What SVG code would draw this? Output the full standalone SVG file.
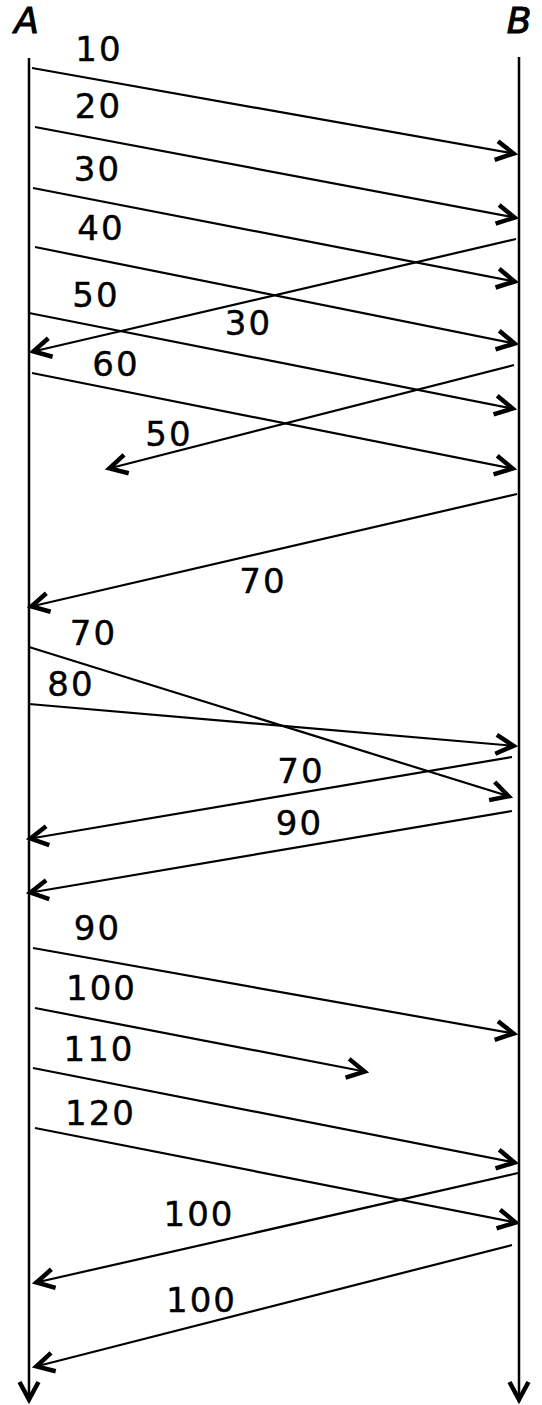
<svg xmlns="http://www.w3.org/2000/svg" width="542" height="1405" viewBox="0 0 542 1405">
<style>
.ax{stroke:#000;stroke-width:2.5;fill:none}
.msg{stroke:#000;stroke-width:2.2;fill:none;marker-end:url(#ah)}
.lbl{font-family:"DejaVu Sans",Verdana,sans-serif;font-size:34px;letter-spacing:2px;fill:#000;stroke:#000;stroke-width:0.4;text-anchor:middle}
.nm{font-family:"DejaVu Sans",Verdana,sans-serif;font-size:36px;font-style:italic;fill:#000;stroke:#000;stroke-width:1;text-anchor:middle}
</style>
<defs>
<marker id="ah" markerUnits="userSpaceOnUse" viewBox="-24 -12 26 24" refX="0" refY="0" markerWidth="26" markerHeight="24" orient="auto" overflow="visible">
<path d="M-20,-9.5 L-2.5,0 L-20,9.5" fill="none" stroke="#000" stroke-width="4.5" stroke-linejoin="miter"/>
</marker>
</defs>
<g id="nodeA">
<text class="nm" x="26.5" y="33">A</text>
<line class="ax" x1="29" y1="58" x2="29" y2="1402" marker-end="url(#ah)"/>
</g>
<g id="nodeB">
<text class="nm" x="519" y="33">B</text>
<line class="ax" x1="519" y1="57" x2="519" y2="1402" marker-end="url(#ah)"/>
</g>
<g id="connectors">
<line class="msg" x1="32" y1="68" x2="516" y2="154"/>
<line class="msg" x1="35" y1="127" x2="517" y2="218"/>
<line class="msg" x1="33" y1="188" x2="517" y2="282"/>
<line class="msg" x1="35" y1="247" x2="517" y2="344"/>
<line class="msg" x1="29" y1="313" x2="515" y2="409"/>
<line class="msg" x1="32" y1="373" x2="515" y2="469"/>
<line class="msg" x1="516" y1="239" x2="31" y2="352"/>
<line class="msg" x1="514" y1="365" x2="107" y2="469"/>
<line class="msg" x1="517" y1="494" x2="29" y2="607"/>
<line class="msg" x1="29" y1="647" x2="511" y2="797"/>
<line class="msg" x1="29" y1="704" x2="516" y2="746"/>
<line class="msg" x1="512" y1="757" x2="28" y2="839"/>
<line class="msg" x1="512" y1="811" x2="28" y2="893"/>
<line class="msg" x1="33" y1="948" x2="516" y2="1034"/>
<line class="msg" x1="35" y1="1008" x2="367" y2="1072"/>
<line class="msg" x1="33" y1="1068" x2="517" y2="1163"/>
<line class="msg" x1="35" y1="1128" x2="518" y2="1223"/>
<line class="msg" x1="518" y1="1173" x2="34" y2="1283"/>
<line class="msg" x1="512" y1="1245" x2="34" y2="1367"/>
</g>
<g id="labels">
<text class="lbl" x="99" y="61">10</text>
<text class="lbl" x="98.5" y="118">20</text>
<text class="lbl" x="97.5" y="181">30</text>
<text class="lbl" x="101" y="240">40</text>
<text class="lbl" x="96" y="307">50</text>
<text class="lbl" x="248.5" y="335">30</text>
<text class="lbl" x="116" y="376">60</text>
<text class="lbl" x="169" y="446">50</text>
<text class="lbl" x="263" y="593">70</text>
<text class="lbl" x="93.5" y="645">70</text>
<text class="lbl" x="71" y="696">80</text>
<text class="lbl" x="301" y="783">70</text>
<text class="lbl" x="299.5" y="835">90</text>
<text class="lbl" x="97.5" y="940">90</text>
<text class="lbl" x="101.5" y="1000">100</text>
<text class="lbl" x="99" y="1061">110</text>
<text class="lbl" x="100.5" y="1125">120</text>
<text class="lbl" x="199" y="1226">100</text>
<text class="lbl" x="201.5" y="1312">100</text>
</g>
</svg>
